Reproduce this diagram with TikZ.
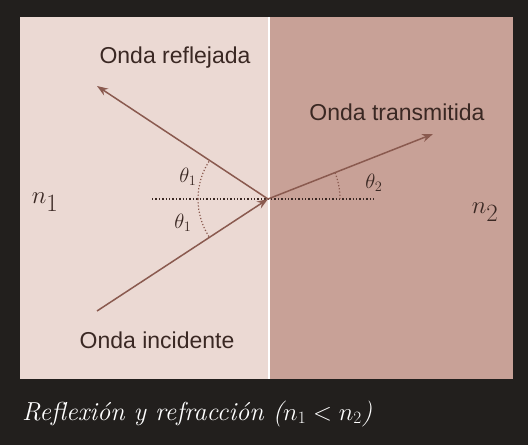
\documentclass[tikz,border=0pt]{standalone}
\usepackage{fontspec}
\usetikzlibrary{arrows.meta}
\newfontfamily\labelfont{Liberation Sans}
\definecolor{fondo}{HTML}{221F1D}
\definecolor{medio1}{HTML}{EBD9D3}
\definecolor{medio2}{HTML}{C8A197}
\definecolor{rayo}{HTML}{8A5A4F}
\definecolor{texto}{HTML}{3A2823}
\tikzset{
  onda/.style={draw=rayo, line width=1.5pt, -{Stealth[length=11pt,width=8pt]}},
  guia/.style={draw=texto, dotted, line width=1.4pt},
  arco/.style={draw=rayo, dotted, line width=1.2pt},
  etiqueta/.style={text=texto, font=\labelfont\fontsize{23}{26}\selectfont, inner sep=0pt},
  indice/.style={text=texto, font=\fontsize{34}{38}\selectfont, inner sep=0pt},
  angulo/.style={text=texto, font=\fontsize{22}{24}\selectfont, inner sep=0pt}
}
\begin{document}
\begin{tikzpicture}[x=1pt,y=1pt]
	\useasboundingbox (0,0) rectangle (528,445);
	\fill[fondo] (0,0) rectangle (528,445);
	\fill[medio1] (20,66) rectangle (268,428);
	\fill[white] (268,66) rectangle (270,428);
	\fill[medio2] (270,66) rectangle (513,428);

	\coordinate (O) at (268,246);
	\coordinate (inc) at (97,134);
	\coordinate (ref) at (97,359);
	\coordinate (tra) at (433,311);
	\coordinate (izq) at (152,246);
	\coordinate (der) at (375,246);

	\draw[guia] (izq) -- (der);
	\draw[onda] (inc) -- (O);
	\draw[onda] (O) -- (ref);
	\draw[onda] (O) -- (tra);

	\draw[arco] ([shift={(180:70)}]O) arc (180:146:70);
	\draw[arco] ([shift={(180:70)}]O) arc (180:213:70);
	\draw[arco] ([shift={(0:72)}]O) arc (0:21:72);

	\node[etiqueta] (lref) at (175,387) {Onda reflejada};
	\node[etiqueta] (linc) at (157,105) {Onda incidente};
	\node[etiqueta] (ltra) at (397,333) {Onda transmitida};

	\node[indice] (n1) at (45,243) {$n_1$};
	\node[indice] (n2) at (485,233) {$n_2$};

	\node[angulo] (t1) at (188,268) {$\theta_1$};
	\node[angulo] (t1b) at (183,222) {$\theta_1$};
	\node[angulo] (t2) at (374,262) {$\theta_2$};

	\node[anchor=base west, text=white, inner sep=0pt, font=\itshape\fontsize{26}{30}\selectfont] (pie) at (22,25) {Reflexión y refracción ($n_1 < n_2$)};
\end{tikzpicture}
\end{document}
